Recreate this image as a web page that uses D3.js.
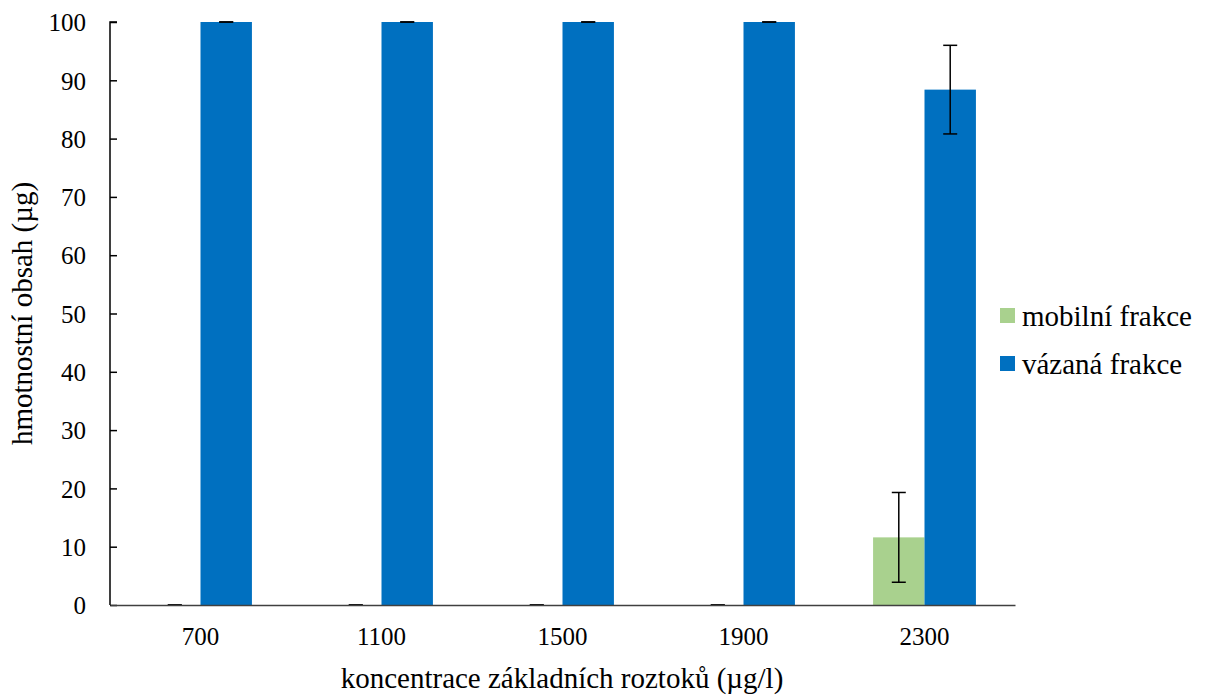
<!DOCTYPE html>
<html>
<head>
<meta charset="utf-8">
<script src="https://cdn.jsdelivr.net/npm/d3@7"></script>
<style>
  body { margin: 0; background: #fff; }
  svg { display: block; }
</style>
</head>
<body>
<svg id="chart" width="1208" height="697"></svg>
<script>
// Concentrations of the stock solutions (µg/l)
const categories = ["700", "1100", "1500", "1900", "2300"];
const seriesNames = ["mobilní frakce", "vázaná frakce"];
const mobileValues = [0, 0, 0, 0, 11.6];
const mobileErrors = [0, 0, 0, 0, 7.7];
const boundValues = [100, 100, 100, 100, 88.4];
const boundErrors = [0, 0, 0, 0, 7.6];
const yTicks = [0, 10, 20, 30, 40, 50, 60, 70, 80, 90, 100];
const colors = ["#A9D18E", "#0070C0"];

const serif = "'Liberation Serif', 'Times New Roman', Times, serif";
const svg = d3.select("#chart");
const margin = { left: 110, right: 193, top: 22, bottom: 92 };
const W = 1208, H = 697;

const x = d3.scaleBand().domain(categories)
  .range([margin.left, W - margin.right]).paddingInner(0).paddingOuter(0);
const inner = d3.scaleBand().domain(seriesNames)
  .range([0, x.bandwidth()]).paddingInner(0).paddingOuter(0.76);
const y = d3.scaleLinear().domain([0, 100]).range([H - margin.bottom, margin.top]);

const rows = categories.map((c, i) => ({
  cat: c,
  vals: [
    { s: seriesNames[0], v: mobileValues[i], e: mobileErrors[i], col: colors[0] },
    { s: seriesNames[1], v: boundValues[i], e: boundErrors[i], col: colors[1] }
  ]
}));

// Bars
const groups = svg.append("g").selectAll("g").data(rows).join("g")
  .attr("transform", d => `translate(${x(d.cat)},0)`);
groups.selectAll("rect").data(d => d.vals).join("rect")
  .attr("x", d => inner(d.s))
  .attr("width", inner.bandwidth())
  .attr("y", d => y(d.v))
  .attr("height", d => y(0) - y(d.v))
  .attr("fill", d => d.col);

// Error bars (± standard deviation)
const capW = 7;
const eb = groups.selectAll("g.err").data(d => d.vals).join("g").attr("class", "err")
  .attr("stroke", "#000").attr("stroke-width", 1.5);
const cx = d => inner(d.s) + inner.bandwidth() / 2;
eb.append("line")
  .attr("x1", cx).attr("x2", cx)
  .attr("y1", d => y(d.v + d.e)).attr("y2", d => y(d.v - d.e));
eb.append("line")
  .attr("x1", d => cx(d) - capW).attr("x2", d => cx(d) + capW)
  .attr("y1", d => y(d.v + d.e)).attr("y2", d => y(d.v + d.e));
eb.append("line")
  .attr("x1", d => cx(d) - capW).attr("x2", d => cx(d) + capW)
  .attr("y1", d => y(d.v - d.e)).attr("y2", d => y(d.v - d.e));

// Y axis with inward ticks
const yAxis = svg.append("g")
  .attr("transform", `translate(${margin.left},0)`)
  .call(d3.axisRight(y).tickValues(yTicks).tickSize(7).tickFormat(d3.format("d")));
yAxis.select(".domain").attr("stroke", "#000").attr("stroke-width", 1.5)
  .attr("d", `M7,${y(100)}H0V${y(0)}`);
yAxis.selectAll(".tick line").attr("stroke", "#000").attr("stroke-width", 1.5);
yAxis.selectAll(".tick text")
  .attr("x", -24).attr("text-anchor", "end").attr("dy", "0.35em")
  .attr("fill", "#000").attr("font-family", serif).attr("font-size", 25);

// X axis line and category labels
const xAxis = svg.append("g")
  .attr("transform", `translate(0,${y(0)})`)
  .call(d3.axisBottom(x).tickSize(0).tickPadding(22));
xAxis.select(".domain").attr("stroke", "#404040").attr("stroke-width", 1.5);
xAxis.selectAll(".tick text")
  .attr("fill", "#000").attr("font-family", serif).attr("font-size", 25);

// Axis titles
svg.append("text")
  .attr("x", 562).attr("y", 688)
  .attr("text-anchor", "middle")
  .attr("font-family", serif).attr("font-size", 29)
  .text("koncentrace základních roztoků (µg/l)");
svg.append("text")
  .attr("transform", `translate(32,${(y(0) + y(100)) / 2}) rotate(-90)`)
  .attr("text-anchor", "middle")
  .attr("font-family", serif).attr("font-size", 29)
  .text("hmotnostní obsah (µg)");

// Legend
const legend = svg.append("g").selectAll("g").data(seriesNames).join("g")
  .attr("transform", (d, i) => `translate(1000,${308 + i * 48})`);
legend.append("rect").attr("width", 15).attr("height", 15)
  .attr("fill", (d, i) => colors[i]);
legend.append("text").attr("x", 22).attr("y", 7.5).attr("dy", "0.35em")
  .attr("font-family", serif).attr("font-size", 29).text(d => d);
</script>
</body>
</html>
